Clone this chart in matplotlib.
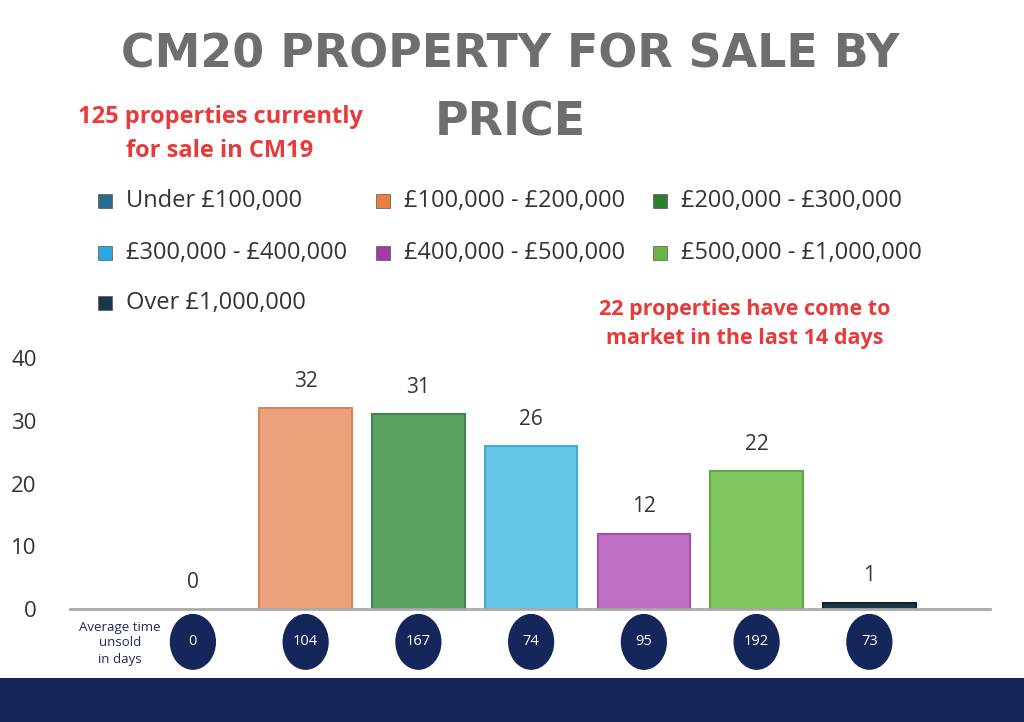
import matplotlib
matplotlib.use("Agg")
import matplotlib.pyplot as plt
from matplotlib.patches import Ellipse, Rectangle
import matplotlib.transforms as mtransforms

categories = ["Under £100,000", "£100,000 - £200,000", "£200,000 - £300,000",
              "£300,000 - £400,000", "£400,000 - £500,000", "£500,000 - £1,000,000",
              "Over £1,000,000"]
counts = [0, 32, 31, 26, 12, 22, 1]
days_unsold = [0, 104, 167, 74, 95, 192, 73]
yticks = [0, 10, 20, 30, 40]

legend_colors = ["#2a6a8c", "#ea8040", "#2e7d32", "#2aa8e0", "#a43aa8", "#6ab446", "#183848"]
bar_colors = ["#2a6a8c", "#eba27c", "#5aa05e", "#62c6e4", "#c070c4", "#7ec85e", "#183848"]
edge_colors = ["#1e5070", "#d8845a", "#3e8444", "#48aacc", "#a452a8", "#60a846", "#0e2230"]

plt.rcParams['font.family'] = ['Open Sans', 'DejaVu Sans']

fig = plt.figure(figsize=(10.24, 7.22), dpi=100)
fig.patch.set_facecolor("white")

W, H = 1024, 722
def fx(px): return px / W
def fy(py): return 1 - py / H

ax = fig.add_axes([fx(70), fy(609), fx(990) - fx(70), fy(358) - fy(609)])
x = list(range(len(categories)))
bars = ax.bar(x, counts, width=0.82, color=bar_colors, edgecolor=edge_colors, linewidth=1.5)
bars[0].set_linewidth(0)
ax.set_xlim(-1.09, 7.07)
ax.set_ylim(0, 40)
ax.set_yticks(yticks)
ax.set_yticklabels([str(t) for t in yticks], fontsize=16, color="#333333")
ax.tick_params(axis="y", length=0, pad=24)
ax.set_xticks([])
for s in ["top", "right", "left"]:
    ax.spines[s].set_visible(False)
ax.spines["bottom"].set_color("#aaaaaa")
ax.spines["bottom"].set_linewidth(2)

for xi, c in zip(x, counts):
    ax.text(xi, c + 2.6, str(c), ha="center", va="bottom", fontsize=15, color="#333333")

trans = mtransforms.blended_transform_factory(ax.transData, ax.transAxes)
for xi, d in zip(x, days_unsold):
    e = Ellipse((xi, -0.131), width=0.41, height=0.223, transform=trans,
                facecolor="#15275a", edgecolor="none", clip_on=False)
    ax.add_patch(e)
    ax.text(xi, -0.131, str(d), transform=trans, ha="center", va="center",
            fontsize=10.5, color="white", clip_on=False)

fig.text(fx(120), fy(643), "Average time\nunsold\nin days", ha="center", va="center",
         fontsize=9.5, color="#1a2a5a", linespacing=1.3)

# bottom band
fig.patches.append(Rectangle((0, 0), 1, fy(678), transform=fig.transFigure,
                             facecolor="#15275a", edgecolor="none"))

# title
fig.text(fx(510), fy(55), "CM20 PROPERTY FOR SALE BY", ha="center", va="center",
         fontsize=33, fontweight="bold", color="#6e6e6e", family=["DejaVu Sans"])
fig.text(fx(510), fy(123), "PRICE", ha="center", va="center",
         fontsize=33, fontweight="bold", color="#6e6e6e", family=["DejaVu Sans"])

red = "#e83a3a"
fig.text(fx(220), fy(134), "125 properties currently\nfor sale in CM19", ha="center",
         va="center", fontsize=17, fontweight="bold", color=red, linespacing=1.55)
fig.text(fx(745), fy(324), "22 properties have come to\nmarket in the last 14 days",
         ha="center", va="center", fontsize=15.5, fontweight="bold", color=red, linespacing=1.5)

# legend
rows = [201, 253, 303]
cols = [105, 383, 660]
for i, (lab, col) in enumerate(zip(categories, legend_colors)):
    r, c = divmod(i, 3)
    px, py = cols[c], rows[r]
    fig.patches.append(Rectangle((fx(px - 7), fy(py + 7)), 14 / W, 14 / H,
                                 transform=fig.transFigure, facecolor=col,
                                 edgecolor="#555555", linewidth=0.5))
    fig.text(fx(px + 21), fy(py), lab, ha="left", va="center", fontsize=17, color="#333333")

fig.savefig("out.png", dpi=100)
